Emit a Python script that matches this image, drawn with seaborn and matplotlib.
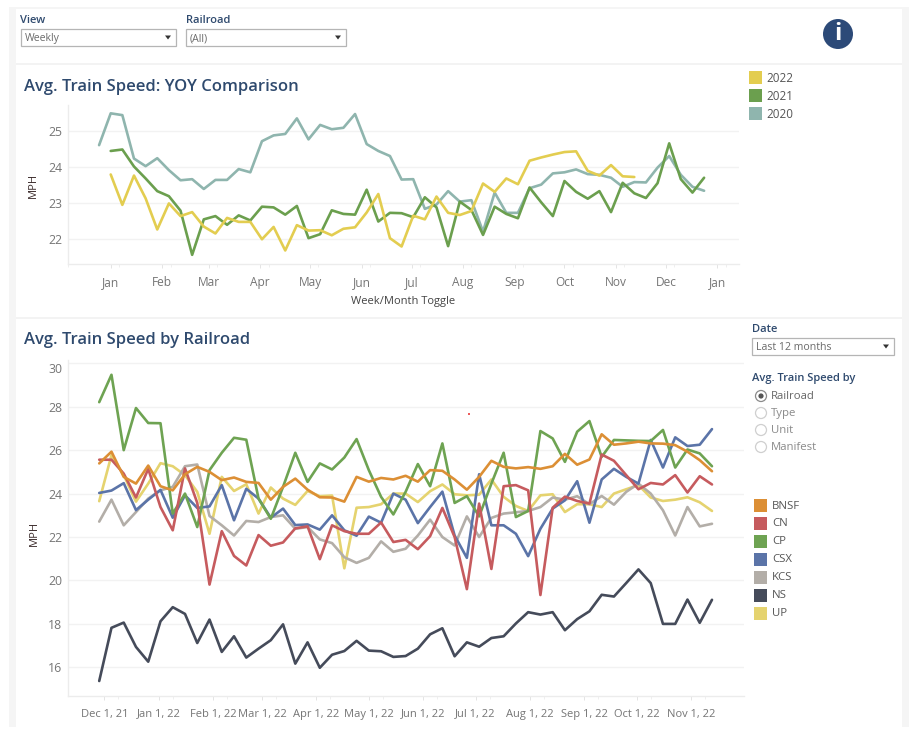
import matplotlib
matplotlib.use("Agg")
import matplotlib.dates as mdates
import matplotlib.pyplot as plt
import pandas as pd
import seaborn as sns
from matplotlib.patches import Circle, Polygon, Rectangle

sns.set_theme(style="white")
plt.rcParams["font.family"] = ["Open Sans", "DejaVu Sans"]

W, H = 919, 737
NAVY = "#2f4a6e"

# YOY chart, one value per week
speed_2020 = [24.60, 25.48, 25.43, 24.23, 24.02, 24.24, 23.91, 23.63, 23.66, 23.39, 23.64, 23.64, 23.94, 23.85,
              24.71, 24.87, 24.91, 25.34, 24.76, 25.16, 25.04, 25.08, 25.46, 24.63, 24.44, 24.30, 23.65, 23.66,
              22.84, 22.96, 23.33, 23.04, 23.08, 22.21, 23.29, 22.73, 22.73, 23.41, 23.51, 23.82, 23.85, 23.93,
              23.80, 23.78, 23.70, 23.45, 23.58, 23.57, 23.98, 24.30, 23.78, 23.45, 23.34]
speed_2021 = [24.44, 24.48, 24.01, 23.68, 23.33, 23.19, 22.79, 21.57, 22.55, 22.64, 22.40, 22.66, 22.52, 22.90,
              22.88, 22.68, 22.92, 22.03, 22.14, 22.80, 22.70, 22.68, 23.37, 22.49, 22.73, 22.72, 22.61, 23.16,
              22.88, 21.81, 23.04, 22.81, 22.12, 22.90, 22.70, 22.58, 23.43, 23.02, 22.64, 23.61, 23.31, 23.12,
              23.33, 22.75, 23.56, 23.27, 23.14, 23.55, 24.65, 23.66, 23.29, 23.70]
speed_2022 = [23.79, 22.95, 23.76, 23.13, 22.27, 22.99, 22.64, 22.75, 22.35, 22.16, 22.59, 22.48, 22.48, 22.00,
              22.34, 21.69, 22.39, 22.24, 22.25, 22.11, 22.29, 22.33, 22.74, 23.25, 22.03, 21.80, 22.65, 22.55,
              23.18, 22.73, 22.67, 22.78, 23.54, 23.31, 23.68, 23.52, 24.17, 24.26, 24.34, 24.41, 24.43, 23.89,
              23.76, 24.05, 23.74, 23.72]

# railroad chart, last 12 months
bnsf = [25.39, 25.93, 24.77, 24.46, 25.29, 24.34, 24.15, 24.89, 25.23, 25.00, 24.62, 24.74, 24.54, 24.49, 23.72,
        24.31, 24.69, 24.18, 23.83, 23.82, 23.63, 24.77, 24.55, 24.72, 24.65, 24.82, 24.55, 25.08, 25.05, 24.65,
        24.18, 24.77, 25.51, 25.23, 25.16, 25.22, 25.14, 25.26, 25.83, 25.33, 25.57, 26.73, 26.25, 26.31, 26.39,
        26.31, 26.30, 26.23, 25.93, 25.54, 25.03]
cn = [25.56, 25.56, 24.92, 23.82, 25.14, 23.38, 22.31, 25.16, 23.57, 19.81, 22.27, 21.13, 20.69, 22.09, 21.60,
      21.75, 22.40, 22.49, 20.98, 22.54, 22.27, 22.15, 22.15, 22.67, 21.77, 21.87, 21.44, 22.04, 23.34, 22.00,
      19.60, 23.54, 20.53, 24.34, 24.39, 24.15, 19.33, 23.35, 23.86, 23.66, 23.54, 25.80, 25.51, 24.85, 24.20,
      24.49, 24.42, 24.85, 24.05, 24.80, 24.42]
cp = [28.21, 29.47, 26.00, 27.94, 27.25, 27.24, 23.08, 24.00, 22.46, 25.08, 25.88, 26.57, 26.48, 23.77, 22.84,
      24.31, 25.88, 24.54, 25.39, 25.11, 25.66, 26.51, 25.08, 23.85, 23.04, 24.08, 25.36, 24.34, 26.31, 23.57,
      23.88, 22.95, 24.46, 25.88, 22.92, 23.20, 26.88, 26.54, 25.46, 26.85, 27.34, 25.69, 26.47, 26.45, 26.43,
      26.42, 26.93, 25.20, 26.03, 25.85, 25.26]
csx = [24.03, 24.14, 24.48, 23.24, 23.72, 24.17, 22.89, 23.92, 23.34, 23.41, 24.39, 22.77, 24.22, 23.77, 22.89,
       23.31, 22.55, 22.58, 22.34, 23.00, 22.31, 22.06, 22.94, 22.66, 24.00, 23.72, 22.64, 23.38, 24.09, 22.07,
       21.04, 24.89, 22.54, 22.54, 22.15, 21.12, 22.38, 23.31, 23.69, 24.57, 22.66, 24.65, 25.14, 24.77, 24.46,
       26.47, 25.20, 26.59, 26.19, 26.25, 26.97]
kcs = [22.71, 23.72, 22.54, 23.15, 23.77, 24.15, 24.31, 25.26, 25.34, 22.97, 22.54, 22.07, 22.74, 22.69, 22.92,
       23.00, 22.38, 22.46, 21.89, 21.72, 21.07, 20.81, 21.04, 21.80, 21.32, 21.46, 22.07, 22.80, 22.00, 21.61,
       22.95, 22.00, 22.88, 23.08, 23.14, 23.20, 23.38, 23.82, 23.72, 23.88, 23.51, 23.89, 23.49, 24.08, 24.46,
       24.00, 23.23, 22.07, 23.38, 22.49, 22.61]
ns = [15.37, 17.82, 18.06, 16.94, 16.26, 18.12, 18.77, 18.46, 17.12, 18.20, 16.71, 17.43, 16.45, 16.86, 17.25,
      17.98, 16.17, 17.15, 15.98, 16.58, 16.75, 17.22, 16.77, 16.74, 16.48, 16.52, 16.86, 17.52, 17.80, 16.51,
      17.15, 16.95, 17.35, 17.43, 18.02, 18.54, 18.43, 18.54, 17.71, 18.22, 18.58, 19.34, 19.26, 19.88, 20.51,
      19.88, 18.00, 18.00, 19.12, 18.05, 19.11]
up = [23.65, 25.77, 24.85, 23.63, 24.46, 25.40, 25.26, 24.85, 24.08, 22.15, 24.77, 24.12, 24.43, 23.08, 24.28,
      23.77, 23.48, 24.12, 23.88, 23.91, 20.56, 23.35, 23.38, 23.51, 24.00, 24.00, 23.61, 24.11, 24.42, 23.97,
      23.92, 23.95, 24.65, 23.85, 23.43, 23.20, 23.92, 23.97, 23.15, 23.51, 23.51, 23.38, 24.00, 24.20, 24.39,
      23.82, 23.66, 23.72, 23.83, 23.60, 23.20]

YEARS = ["2022", "2021", "2020"]
YEAR_COLORS = {"2022": "#e3cd50", "2021": "#6b9f4e", "2020": "#8fb5ae"}
RAILROADS = ["BNSF", "CN", "CP", "CSX", "KCS", "NS", "UP"]
RAILROAD_COLORS = {"BNSF": "#dc8f35", "CN": "#c65b5e", "CP": "#6ea352", "CSX": "#5b74a8",
                   "KCS": "#b3aea8", "NS": "#454b5a", "UP": "#e5d36f"}


def px_axes(fig, left, top, right, bottom):
    return fig.add_axes([left / W, 1 - bottom / H, (right - left) / W, (bottom - top) / H])


def style_axes(ax, xsize):
    sns.despine(ax=ax)
    ax.set_facecolor("none")
    for side in ("left", "bottom"):
        ax.spines[side].set_color("#ececec")
        ax.spines[side].set_linewidth(1)
    ax.grid(True, axis="y", color="#f2f2f2", linewidth=1)
    ax.grid(False, axis="x")
    ax.tick_params(axis="y", length=0, pad=4, labelsize=8.8, labelcolor="#757575")
    ax.tick_params(axis="x", which="major", length=3, width=0.7, color="#e4e4e4", pad=6,
                   labelsize=xsize, labelcolor="#757575", bottom=True)
    ax.tick_params(axis="x", which="minor", length=2, width=0.7, color="#efefef", bottom=True)
    ax.set_xlabel("")
    ax.set_ylabel("")


fig = plt.figure(figsize=(W / 100, H / 100), dpi=100, facecolor="white")

# page background behind the dashboard panels, the grey stops at the panel bottom
bg = fig.add_axes([0, 0, 1, 1], zorder=0)
bg.set_xlim(0, W)
bg.set_ylim(H, 0)
bg.axis("off")
bg.add_patch(Rectangle((9, 7), 900, 720, color="#f5f5f5", lw=0))
bg.add_patch(Rectangle((16, 9), 886, 718, color="white", lw=0))
bg.add_patch(Rectangle((16, 63), 886, 2, color="#f3f3f3", lw=0))
bg.add_patch(Rectangle((16, 317), 886, 2, color="#f3f3f3", lw=0))

# YOY chart
yoy_dates = pd.date_range("2020-12-25", periods=53, freq="7D")
yoy = pd.concat([
    pd.DataFrame({"year": "2020", "date": yoy_dates, "speed": speed_2020}),
    pd.DataFrame({"year": "2021", "date": yoy_dates[1:53], "speed": speed_2021}),
    pd.DataFrame({"year": "2022", "date": yoy_dates[1:47], "speed": speed_2022}),
], ignore_index=True)

ax1 = px_axes(fig, 67.5, 105, 739, 263.5)
ax1.set_zorder(2)
sns.lineplot(data=yoy, x="date", y="speed", hue="year", hue_order=["2020", "2021", "2022"],
             palette=YEAR_COLORS, errorbar=None, legend=False, linewidth=1.9, ax=ax1)
ax1.set_xlim(pd.Timestamp("2020-12-06"), pd.Timestamp("2022-01-14"))
ax1.set_ylim(21.33, 25.71)
ax1.set_yticks([22, 23, 24, 25])
ax1.xaxis.set_major_locator(mdates.MonthLocator())
ax1.xaxis.set_major_formatter(mdates.DateFormatter("%b"))
ax1.xaxis.set_minor_locator(mdates.DayLocator(bymonthday=6))
style_axes(ax1, 8.6)

# railroad chart
rail_dates = pd.date_range("2021-11-28", periods=51, freq="7D")
rail_values = {"BNSF": bnsf, "CN": cn, "CP": cp, "CSX": csx, "KCS": kcs, "NS": ns, "UP": up}
rail = pd.concat([pd.DataFrame({"railroad": k, "date": rail_dates, "speed": v}) for k, v in rail_values.items()],
                 ignore_index=True)

ax2 = px_axes(fig, 67.7, 359.6, 743.5, 696)
ax2.set_zorder(2)
sns.lineplot(data=rail, x="date", y="speed", hue="railroad", hue_order=RAILROADS[::-1],
             palette=RAILROAD_COLORS, errorbar=None, legend=False, linewidth=1.9, ax=ax2)
ax2.set_xlim(pd.Timestamp("2021-11-10"), pd.Timestamp("2022-12-01"))
ax2.set_ylim(14.68, 30.17)
ax2.set_yticks([16, 18, 20, 22, 24, 26, 28, 30])
ax2.xaxis.set_major_locator(mdates.MonthLocator(bymonth=range(1, 12), bymonthday=1))
ax2.xaxis.set_major_formatter(lambda v, pos: (lambda d: f"{d:%b} {d.day}, {d:%y}")(mdates.num2date(v)))
ax2.set_xticks(list(ax2.get_xticks()) + [mdates.date2num(pd.Timestamp("2021-12-01"))])
ax2.xaxis.set_minor_locator(mdates.DayLocator(bymonthday=9))
style_axes(ax2, 8)
ax2.get_yticklabels()[-1].set_verticalalignment("top")

# everything around the charts, placed in pixels
ui = fig.add_axes([0, 0, 1, 1], zorder=3)
ui.set_xlim(0, W)
ui.set_ylim(H, 0)
ui.axis("off")


def label(x, y, s, size=8.5, color="#555555", **kw):
    kw.setdefault("va", "center")
    ui.text(x, y + 1, s, fontsize=size, color=color, **kw)


def dropdown(x0, x1, y0, y1, s):
    ui.add_patch(Rectangle((x0, y0), x1 - x0, y1 - y0, fc="white", ec="#b5b5b5", lw=0.9))
    label(x0 + 4, (y0 + y1) / 2, s, size=7.6, color="#6a6a6a")
    ym = (y0 + y1) / 2
    ui.add_patch(Polygon([(x1 - 11, ym - 2), (x1 - 5, ym - 2), (x1 - 8, ym + 2)], fc="#333333", lw=0))


label(20, 19, "View", size=8, color=NAVY, fontweight="semibold")
dropdown(21, 176, 29, 46, "Weekly")
label(186, 19, "Railroad", size=8, color=NAVY, fontweight="semibold")
dropdown(186, 346, 29, 46, "(All)")

ui.add_patch(Circle((838, 34), 15, color="#2c4a78", lw=0))
ui.text(838, 34, "i", fontsize=17, color="white", fontweight="bold", ha="center", va="center")

label(24, 86, "Avg. Train Speed: YOY Comparison", size=12, color=NAVY, fontweight="semibold")
label(24, 339, "Avg. Train Speed by Railroad", size=12, color=NAVY, fontweight="semibold")
label(33, 184, "MPH", size=8, color="#3a2a2a", rotation=90, ha="center")
label(34, 532, "MPH", size=8, color="#3a2a2a", rotation=90, ha="center")
label(403, 300, "Week/Month Toggle", size=8, color="#444444", ha="center")

for i, year in enumerate(YEARS):
    ui.add_patch(Rectangle((749, 71 + 18 * i), 13, 13, color=YEAR_COLORS[year], lw=0))
    label(766, 77 + 18 * i, year, size=8.4)

label(752, 328, "Date", size=8, color=NAVY, fontweight="semibold")
dropdown(752, 894, 338, 355, "Last 12 months")
label(752, 377, "Avg. Train Speed by", size=8, color=NAVY, fontweight="semibold")
for i, option in enumerate(["Railroad", "Type", "Unit", "Manifest"]):
    y = 396 + 17 * i
    ui.add_patch(Circle((761, y), 5.5, fc="white", ec="#8a8a8a" if i == 0 else "#cfcfcf", lw=0.9))
    if i == 0:
        ui.add_patch(Circle((761, y), 2.6, color="#555555", lw=0))
    label(771, y - 1, option, size=8.2, color="#666666" if i == 0 else "#8a8a8a")

for i, name in enumerate(RAILROADS):
    ui.add_patch(Rectangle((754, 499 + 18 * i), 13, 13, color=RAILROAD_COLORS[name], lw=0))
    label(772, 505 + 18 * i, name, size=8.2)

ui.add_patch(Circle((469, 414), 1, color="#e83030", lw=0))

fig.savefig("out.png", dpi=100, facecolor="white")
